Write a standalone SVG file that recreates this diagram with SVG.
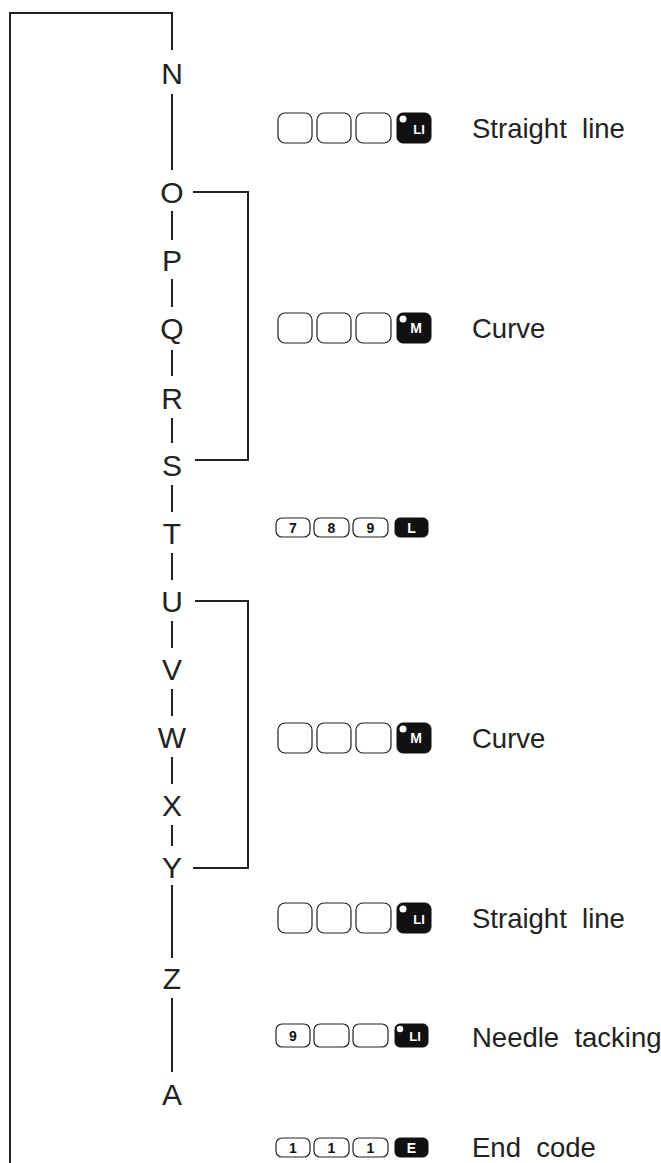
<svg xmlns="http://www.w3.org/2000/svg" width="661" height="1163" viewBox="0 0 661 1163">
<style>
.ln{fill:none;stroke:#222;stroke-width:2}
.let{font-family:"Liberation Sans",Arial,sans-serif;font-size:30px;fill:#222;text-anchor:middle}
.lab{font-family:"Liberation Sans",Arial,sans-serif;font-size:27.5px;fill:#222;white-space:pre}
.wk{fill:#fff;stroke:#222;stroke-width:1.2}
.bk{fill:#111;stroke:#111;stroke-width:1}
.kt{font-family:"Liberation Sans",Arial,sans-serif;font-weight:bold;font-size:14px;text-anchor:middle}
.kw{fill:#fff}
.kb{fill:#111}
.dot{fill:#fff}
</style>
<rect width="661" height="1163" fill="#fff"/>
<g id="connectors">
<path class="ln" d="M172 50V13H10V1163"/>
<path class="ln" d="M172 94V170M172 211V240M172 279V307M172 350V376M172 418V443M172 485V512M172 553V580M172 621V648M172 689V716M172 757V784M172 825V846M172 885V958M172 998V1072"/>
<path class="ln" d="M193 192H248V460H195"/>
<path class="ln" d="M195 601H248V868H193"/>
</g>
<g id="letters">
<g id="N"><text class="let" x="172" y="84">N</text></g>
<g id="O"><text class="let" x="172" y="203">O</text></g>
<g id="P"><text class="let" x="172" y="271">P</text></g>
<g id="Q"><text class="let" x="172" y="339">Q</text></g>
<g id="R"><text class="let" x="172" y="409">R</text></g>
<g id="S"><text class="let" x="172" y="476">S</text></g>
<g id="T"><text class="let" x="172" y="544">T</text></g>
<g id="U"><text class="let" x="172" y="612">U</text></g>
<g id="V"><text class="let" x="172" y="680">V</text></g>
<g id="W"><text class="let" x="172" y="748">W</text></g>
<g id="X"><text class="let" x="172" y="816">X</text></g>
<g id="Y"><text class="let" x="172" y="878">Y</text></g>
<g id="Z"><text class="let" x="172" y="989">Z</text></g>
<g id="A"><text class="let" x="172" y="1105">A</text></g>
</g>
<g id="row1">
<rect class="wk" x="278" y="113" width="34" height="30" rx="7"/>
<rect class="wk" x="317" y="113" width="34" height="30" rx="7"/>
<rect class="wk" x="356" y="113" width="35" height="30" rx="7"/>
<rect class="bk" x="397" y="113" width="34" height="30" rx="6"/>
<circle class="dot" cx="403" cy="119" r="3.5"/>
<text class="kt kw" x="419" y="134" style="font-size:13px">LI</text>
<text class="lab" x="472" y="138">Straight  line</text>
</g>
<g id="row2">
<rect class="wk" x="278" y="313" width="34" height="30" rx="7"/>
<rect class="wk" x="317" y="313" width="34" height="30" rx="7"/>
<rect class="wk" x="356" y="313" width="35" height="30" rx="7"/>
<rect class="bk" x="397" y="313" width="34" height="30" rx="6"/>
<circle class="dot" cx="403" cy="319" r="3.5"/>
<text class="kt kw" x="416" y="333">M</text>
<text class="lab" x="472" y="338">Curve</text>
</g>
<g id="row3">
<rect class="wk" x="276" y="518" width="34" height="19" rx="6"/>
<rect class="wk" x="314" y="518" width="35" height="19" rx="6"/>
<rect class="wk" x="353" y="518" width="35" height="19" rx="6"/>
<rect class="bk" x="395" y="518" width="33" height="19" rx="5"/>
<text class="kt kb" x="293" y="533">7</text>
<text class="kt kb" x="331.5" y="533">8</text>
<text class="kt kb" x="370.5" y="533">9</text>
<text class="kt kw" x="411.5" y="533">L</text>
</g>
<g id="row4">
<rect class="wk" x="278" y="723" width="34" height="30" rx="7"/>
<rect class="wk" x="317" y="723" width="34" height="30" rx="7"/>
<rect class="wk" x="356" y="723" width="35" height="30" rx="7"/>
<rect class="bk" x="397" y="723" width="34" height="30" rx="6"/>
<circle class="dot" cx="403" cy="729" r="3.5"/>
<text class="kt kw" x="416" y="743">M</text>
<text class="lab" x="472" y="748">Curve</text>
</g>
<g id="row5">
<rect class="wk" x="278" y="903" width="34" height="30" rx="7"/>
<rect class="wk" x="317" y="903" width="34" height="30" rx="7"/>
<rect class="wk" x="356" y="903" width="35" height="30" rx="7"/>
<rect class="bk" x="397" y="903" width="34" height="30" rx="6"/>
<circle class="dot" cx="403" cy="909" r="3.5"/>
<text class="kt kw" x="419" y="924" style="font-size:13px">LI</text>
<text class="lab" x="472" y="928">Straight  line</text>
</g>
<g id="row6">
<rect class="wk" x="276" y="1024" width="34" height="23" rx="6"/>
<rect class="wk" x="314" y="1024" width="35" height="23" rx="6"/>
<rect class="wk" x="353" y="1024" width="35" height="23" rx="6"/>
<rect class="bk" x="395" y="1024" width="33" height="23" rx="5"/>
<circle class="dot" cx="400" cy="1029" r="3.2"/>
<text class="kt kb" x="293" y="1041">9</text>
<text class="kt kw" x="415" y="1041" style="font-size:13px">LI</text>
<text class="lab" x="472" y="1047">Needle  tacking</text>
</g>
<g id="row7">
<rect class="wk" x="276" y="1138" width="34" height="19" rx="6"/>
<rect class="wk" x="314" y="1138" width="35" height="19" rx="6"/>
<rect class="wk" x="353" y="1138" width="35" height="19" rx="6"/>
<rect class="bk" x="395" y="1138" width="33" height="19" rx="5"/>
<text class="kt kb" x="293" y="1153">1</text>
<text class="kt kb" x="331.5" y="1153">1</text>
<text class="kt kb" x="370.5" y="1153">1</text>
<text class="kt kw" x="411.5" y="1153">E</text>
<text class="lab" x="472" y="1157">End  code</text>
</g>
</svg>
